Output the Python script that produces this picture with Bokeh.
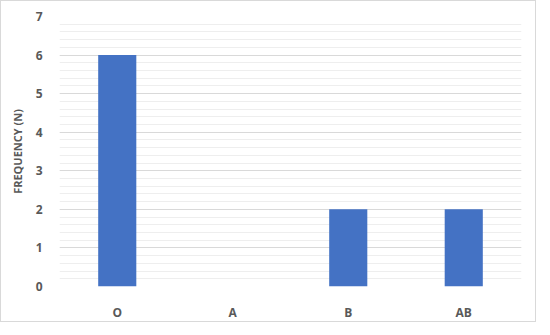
from bokeh.plotting import figure
from bokeh.models import ColumnDataSource, FixedTicker, Range1d
from bokeh.embed import file_html
from bokeh.resources import INLINE

categories = ["O", "A", "B", "AB"]
frequency = [6, 0, 2, 2]
y_ticks = [0, 1, 2, 3, 4, 5, 6, 7]

source = ColumnDataSource(data=dict(cat=categories, freq=frequency))

p = figure(x_range=categories, y_range=Range1d(0, 7), width=536, height=322,
           output_backend="svg", toolbar_location=None,
           min_border_left=58, min_border_right=16, min_border_top=15, min_border_bottom=36)
p.styles = {"border": "1px solid #d9d9d9", "box-sizing": "border-box"}
p.outline_line_color = None
p.background_fill_color = "white"
p.border_fill_color = "white"

p.vbar(x="cat", top="freq", width=0.33, source=source, color="#4472c4", line_color=None)

p.yaxis.ticker = FixedTicker(ticks=y_ticks, minor_ticks=[i * 0.2 for i in range(36)])
p.ygrid.grid_line_color = "#d9d9d9"
p.ygrid.grid_line_width = 1
p.ygrid.minor_grid_line_color = "#eeeeee"
p.ygrid.minor_grid_line_width = 1
p.xgrid.grid_line_color = None
p.grid.level = "underlay"

for ax in (p.xaxis[0], p.yaxis[0]):
    ax.axis_line_color = None
    ax.major_tick_line_color = None
    ax.minor_tick_line_color = None
    ax.major_label_text_color = "#595959"
    ax.major_label_text_font = "Open Sans"
    ax.major_label_text_font_style = "bold"
    ax.major_label_text_font_size = "12px"

p.xaxis.major_label_standoff = 11
p.yaxis.major_label_standoff = 11
p.yaxis.axis_label = "FREQUENCY (N)"
p.yaxis.axis_label_text_color = "#595959"
p.yaxis.axis_label_text_font = "Open Sans"
p.yaxis.axis_label_text_font_style = "bold"
p.yaxis.axis_label_text_font_size = "11px"
p.yaxis.axis_label_standoff = 8

p.x_range.range_padding = 0

open("out.html", "w").write(file_html(p, INLINE))
